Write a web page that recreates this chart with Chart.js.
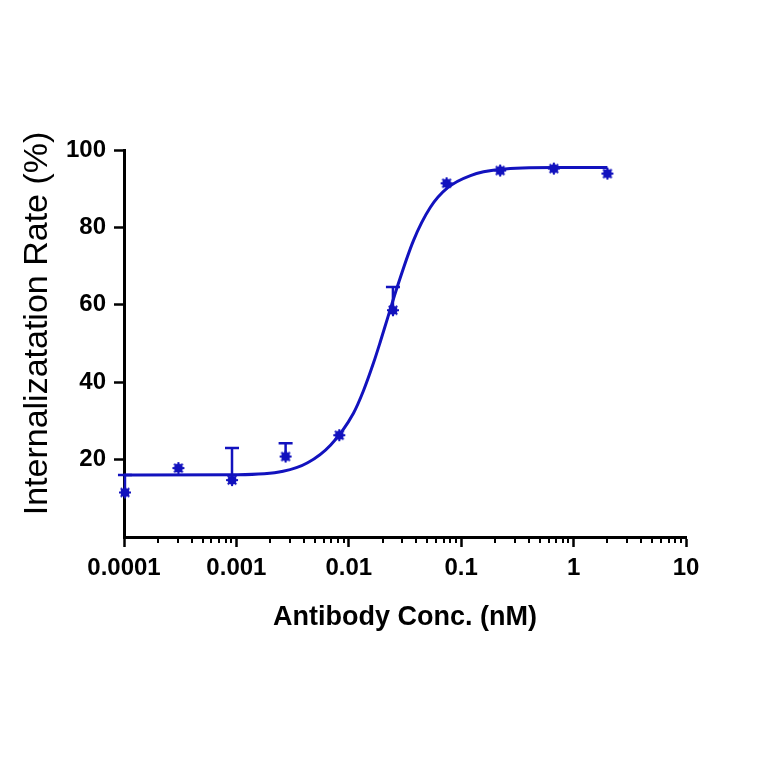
<!DOCTYPE html>
<html>
<head>
<meta charset="utf-8">
<script src="https://cdn.jsdelivr.net/npm/chart.js@4"></script>
<style>
  body { margin: 0; background: #fff; }
</style>
</head>
<body>
<canvas id="grafico" width="764" height="764"></canvas>
<script>
// Concentraciones (nM), dilucion 1:3 desde 2 nM
const concentraciones = [0.000102, 0.000305, 0.000914, 0.00274, 0.00823, 0.0247, 0.0741, 0.222, 0.667, 2];
// Medias y extremo superior de la barra de error
const internalizacion = [11.5, 17.8, 14.7, 20.8, 26.3, 58.6, 91.4, 94.7, 95.2, 93.9];
const errorSuperior = [16.0, 17.8, 23.0, 24.2, 26.3, 64.6, 91.4, 94.7, 95.2, 93.9];

// Curva ajustada
const curvaX = [0.0001, 0.001, 0.0026, 0.0043, 0.0069, 0.011, 0.0135, 0.0166, 0.0191, 0.0221, 0.0271, 0.0376, 0.0532, 0.0754, 0.121, 0.223, 0.659, 2.0];
const curvaY = [16.0, 16.1, 17.0, 19.2, 23.8, 32.0, 37.8, 45.0, 50.5, 56.5, 64.8, 76.6, 85.2, 90.2, 93.4, 95.0, 95.5, 95.5];

const ticksX = [0.0001, 0.001, 0.01, 0.1, 1, 10];
const etiquetasX = ['0.0001', '0.001', '0.01', '0.1', '1', '10'];
const ticksY = [0, 20, 40, 60, 80, 100];
const tituloY = 'Internalizatation Rate (%)';

const azul = '#1212be';
const fuente = "'Liberation Sans', Arial, sans-serif";

// marcador: circulo con puntas
const marcador = document.createElement('canvas');
marcador.width = 14; marcador.height = 14;
(() => {
  const c = marcador.getContext('2d');
  c.fillStyle = azul; c.strokeStyle = azul; c.lineWidth = 2;
  c.beginPath(); c.arc(7, 7, 4.5, 0, Math.PI * 2); c.fill();
  for (let i = 0; i < 8; i++) {
    const a = i * Math.PI / 4;
    c.beginPath(); c.moveTo(7, 7); c.lineTo(7 + 6 * Math.cos(a), 7 + 6 * Math.sin(a)); c.stroke();
  }
})();

// barras de error (solo hacia arriba)
const barrasError = {
  id: 'barrasError',
  beforeDatasetsDraw(chart) {
    const { ctx, scales: { x, y } } = chart;
    ctx.save();
    ctx.strokeStyle = azul;
    ctx.lineWidth = 2.5;
    concentraciones.forEach((c, i) => {
      if (errorSuperior[i] - internalizacion[i] < 0.5) return;
      const px = x.getPixelForValue(c);
      const y0 = y.getPixelForValue(internalizacion[i]);
      const y1 = y.getPixelForValue(errorSuperior[i]);
      ctx.beginPath();
      ctx.moveTo(px, y0); ctx.lineTo(px, y1);
      ctx.moveTo(px - 7, y1); ctx.lineTo(px + 7, y1);
      ctx.stroke();
    });
    ctx.restore();
  }
};

// marcas menores del eje log + titulo del eje y (algo desplazado hacia arriba)
const extras = {
  id: 'extras',
  afterDraw(chart) {
    const { ctx, scales: { x, y } } = chart;
    ctx.save();
    ctx.strokeStyle = '#000';
    ctx.lineWidth = 2;
    for (let d = 0; d < ticksX.length - 1; d++) {
      for (let m = 2; m <= 9; m++) {
        const px = Math.round(x.getPixelForValue(ticksX[d] * m));
        ctx.beginPath();
        ctx.moveTo(px, x.top);
        ctx.lineTo(px, x.top + 6);
        ctx.stroke();
      }
    }
    ctx.translate(38, (y.top + y.bottom) / 2 - 20);
    ctx.rotate(-Math.PI / 2);
    ctx.fillStyle = '#000';
    ctx.font = '34px ' + fuente;
    ctx.textAlign = 'center';
    ctx.textBaseline = 'middle';
    ctx.fillText(tituloY, 0, 0);
    ctx.restore();
  }
};

const ctx = document.getElementById('grafico').getContext('2d');
new Chart(ctx, {
  data: {
    datasets: [
      {
        type: 'line',
        data: curvaX.map((v, i) => ({ x: v, y: curvaY[i] })),
        borderColor: azul,
        borderWidth: 3,
        pointRadius: 0,
        cubicInterpolationMode: 'monotone',
        fill: false,
        clip: false,
      },
      {
        type: 'scatter',
        data: concentraciones.map((v, i) => ({ x: v, y: internalizacion[i] })),
        pointStyle: marcador,
        clip: false,
      },
    ],
  },
  options: {
    responsive: false,
    animation: false,
    layout: { padding: { left: 18, top: 150, right: 78, bottom: 130 } },
    plugins: { legend: { display: false }, tooltip: { enabled: false } },
    scales: {
      x: {
        type: 'logarithmic',
        min: 0.0001,
        max: 10,
        afterBuildTicks: (s) => { s.ticks = ticksX.map(v => ({ value: v })); },
        afterFit: (s) => { s.height = 97; },
        border: { color: '#000', width: 3 },
        grid: { drawOnChartArea: false, tickLength: 10, tickWidth: 2.5, tickColor: '#000' },
        ticks: {
          autoSkip: false,
          maxRotation: 0,
          padding: 7,
          color: '#000',
          font: { family: fuente, size: 24, weight: 'bold' },
          callback: (v) => etiquetasX[ticksX.indexOf(v)] ?? '',
        },
        title: {
          display: true,
          text: 'Antibody Conc. (nM)',
          color: '#000',
          padding: 0,
          font: { family: fuente, size: 27, weight: 'bold' },
        },
      },
      y: {
        min: 0,
        max: 100,
        afterBuildTicks: (s) => { s.ticks = ticksY.map(v => ({ value: v })); },
        afterFit: (s) => { s.width = 106; },
        border: { color: '#000', width: 3 },
        grid: {
          drawOnChartArea: false,
          tickLength: 10,
          tickWidth: 2.5,
          tickColor: (c) => (c.tick && c.tick.value === 0 ? 'rgba(0,0,0,0)' : '#000'),
        },
        ticks: {
          padding: 8,
          color: '#000',
          font: { family: fuente, size: 24, weight: 'bold' },
          callback: (v) => (v === 0 ? '' : String(v)),
        },
        title: { display: false },
      },
    },
  },
  plugins: [barrasError, extras],
});
</script>
</body>
</html>
